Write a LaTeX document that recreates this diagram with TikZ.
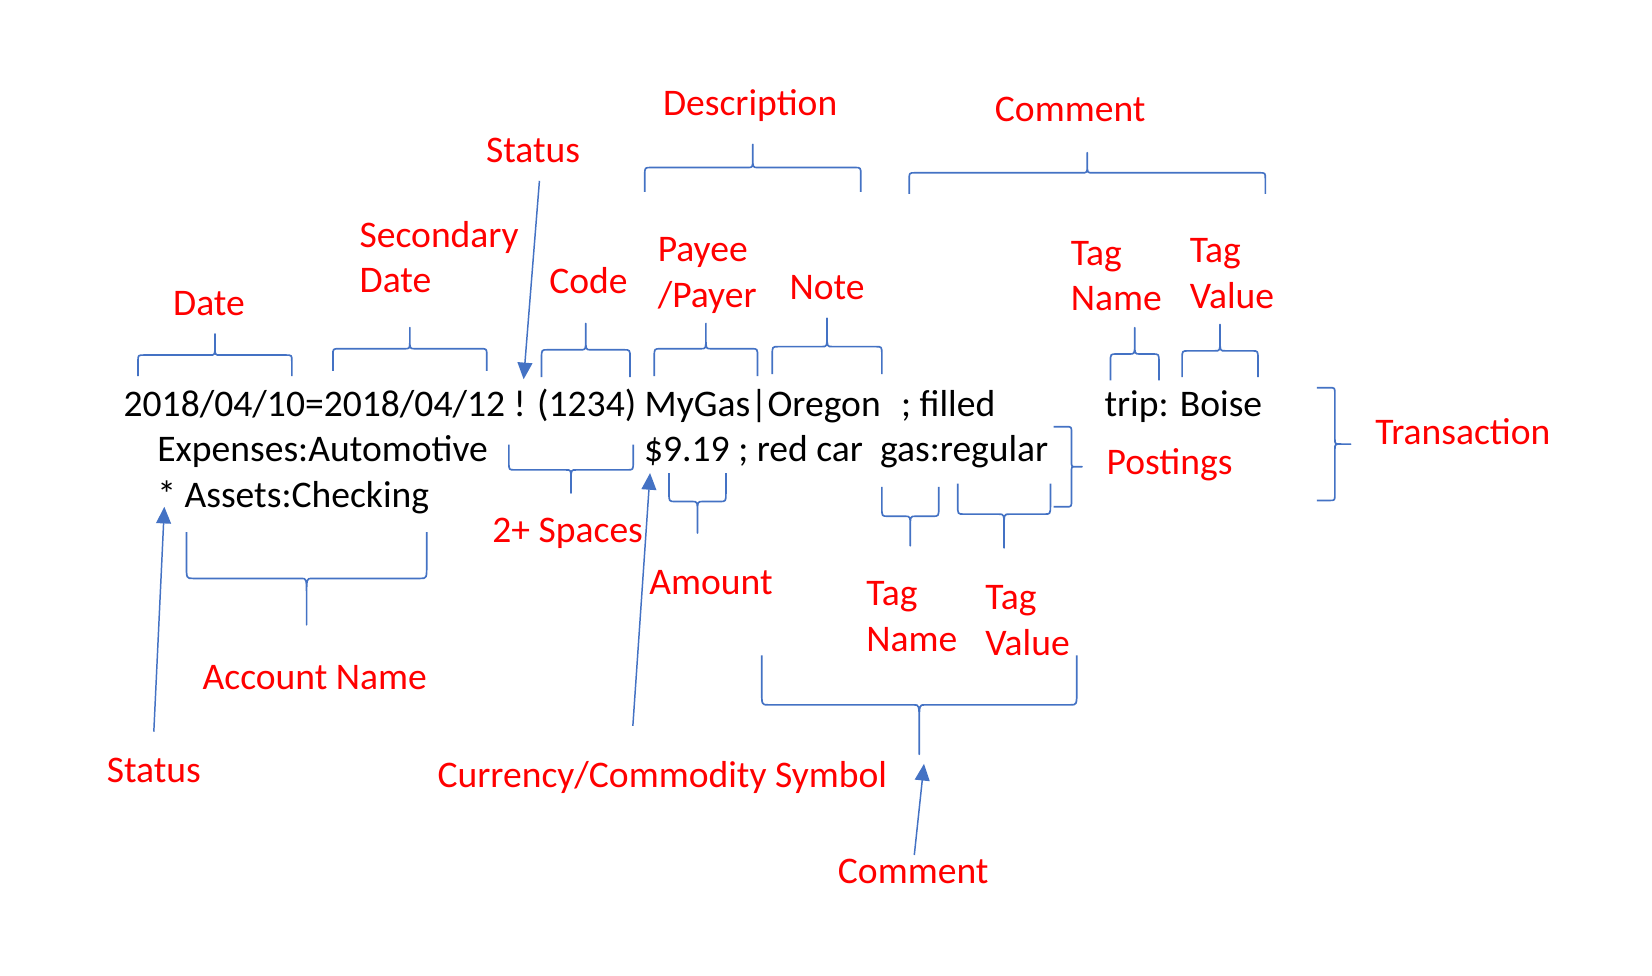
\documentclass[tikz,border=0pt]{standalone}
\usepackage{fontspec}
\setmainfont{Carlito}
\usetikzlibrary{arrows.meta}
\definecolor{LabelRed}{RGB}{255,0,0}
\definecolor{BraceBlue}{RGB}{68,114,196}
\newcommand{\mainsize}{\fontsize{20.3}{24.7}\selectfont}
% word-style braces: from x1 to x2, legs end, straight part, tip
\newcommand{\Hbrace}[5]{\draw[wbr] (#1,#3) -- (#1,{#4+0.3*(#3-#4)}) .. controls (#1,#4) .. ({#1+6},#4) -- ({(#1+#2)/2-5},#4) .. controls ({(#1+#2)/2},#4) .. ({(#1+#2)/2},{#4+0.4*(#5-#4)}) -- ({(#1+#2)/2},#5) -- ({(#1+#2)/2},{#4+0.4*(#5-#4)}) .. controls ({(#1+#2)/2},#4) .. ({(#1+#2)/2+5},#4) -- ({#2-6},#4) .. controls (#2,#4) .. (#2,{#4+0.3*(#3-#4)}) -- (#2,#3);}
\newcommand{\Vbrace}[5]{\draw[wbr] (#3,#1) -- ({#4+0.3*(#3-#4)},#1) .. controls (#4,#1) .. (#4,{#1+6}) -- (#4,{(#1+#2)/2-5}) .. controls (#4,{(#1+#2)/2}) .. ({#4+0.4*(#5-#4)},{(#1+#2)/2}) -- (#5,{(#1+#2)/2}) -- ({#4+0.4*(#5-#4)},{(#1+#2)/2}) .. controls (#4,{(#1+#2)/2}) .. (#4,{(#1+#2)/2+5}) -- (#4,{#2-6}) .. controls (#4,#2) .. ({#4+0.3*(#3-#4)},#2) -- (#3,#2);}

\begin{document}
\begin{tikzpicture}[x=0.02cm,y=-0.02cm,
  txt/.style={inner sep=0pt,anchor=base west,font=\mainsize},
  lab/.style={txt,text=LabelRed,align=left},
  wbr/.style={draw=BraceBlue,line width=0.9pt,line join=round},
  arr/.style={draw=BraceBlue,line width=0.8pt,-{Triangle[length=9pt,width=8pt]}}
]
  \path[use as bounding box,fill=white] (0,0) rectangle (1568,926);

  % the entry
  \node[txt] (head) at (117,395) {2018/04/10=2018/04/12 ! (1234) MyGas|Oregon};
  \node[txt] (filled) at (855,395) {; filled};
  \node[txt] (trip) at (1048,395) {trip: Boise};
  \node[txt] (exp) at (149,438) {Expenses:Automotive};
  \node[txt] (amt) at (611,438) {\$9.19 ; red car\ \ gas:regular};
  \node[txt] (chk) at (149,482) {* Assets:Checking};

  % labels
  \node[lab] (ldesc) at (629,110) {Description};
  \node[lab] (lcmt) at (944,115) {Comment};
  \node[lab] (lst) at (461,154) {Status};
  \node[lab] (lsec) at (341,278) {Secondary\\Date};
  \node[lab] (lcode) at (521,279) {Code};
  \node[lab] (lpay) at (624,292) {Payee\\/Payer};
  \node[lab] (lnote) at (749,284) {Note};
  \node[lab] (ldate) at (164,299) {Date};
  \node[lab] (ltn) at (1016,295) {Tag\\Name};
  \node[lab] (ltv) at (1129,293) {Tag\\Value};
  \node[lab] (ltr) at (1305,422) {Transaction};
  \node[lab] (lpost) at (1050,450) {Postings};
  \node[lab] (lsp) at (467,515) {2+ Spaces};
  \node[lab] (lamt) at (616,564) {Amount};
  \node[lab] (ltn2) at (822,618) {Tag\\Name};
  \node[lab] (ltv2) at (935,622) {Tag\\Value};
  \node[lab] (lacc) at (192,654) {Account Name};
  \node[lab] (lst2) at (101,743) {Status};
  \node[lab] (lcur) at (415,747) {Currency/Commodity Symbol};
  \node[lab] (lcmt2) at (795,839) {Comment};

  % braces
  \Hbrace{131}{277}{357}{337}{317}
  \Hbrace{316}{462}{352}{331}{311}
  \Hbrace{514}{598}{358}{332}{307}
  \Hbrace{621}{719}{357}{331}{307}
  \Hbrace{733}{837}{355}{329}{302}
  \Hbrace{612}{817}{182}{159}{137}
  \Hbrace{863}{1201}{184}{164}{145}
  \Hbrace{1054}{1100}{361}{336}{311}
  \Hbrace{1122}{1194}{358}{333}{308}
  \Hbrace{483}{601}{422}{446}{468}
  \Hbrace{635}{689}{449}{476}{506}
  \Hbrace{837}{891}{462}{490}{518}
  \Hbrace{909}{997}{459}{488}{520}
  \Hbrace{177}{405}{505}{549}{593}
  \Hbrace{723}{1022}{622}{669}{716}
  \Vbrace{405}{481}{1000}{1017}{1027}
  \Vbrace{368}{475}{1250}{1267}{1282}

  % arrows
  \coordinate (bang) at (497,360);
  \coordinate (star) at (156,481);
  \coordinate (dollar) at (617,449);
  \coordinate (cmtip) at (877,725);
  \draw[arr] (lst.south) ++(6,17) -- (bang);
  \draw[arr] (lst2.north) ++(0,-25) -- (star);
  \draw[arr] (lcur.north) ++(-28,-33) -- (dollar);
  \draw[arr] (lcmt2.north) ++(1,-4) -- (cmtip);
\end{tikzpicture}
\end{document}
